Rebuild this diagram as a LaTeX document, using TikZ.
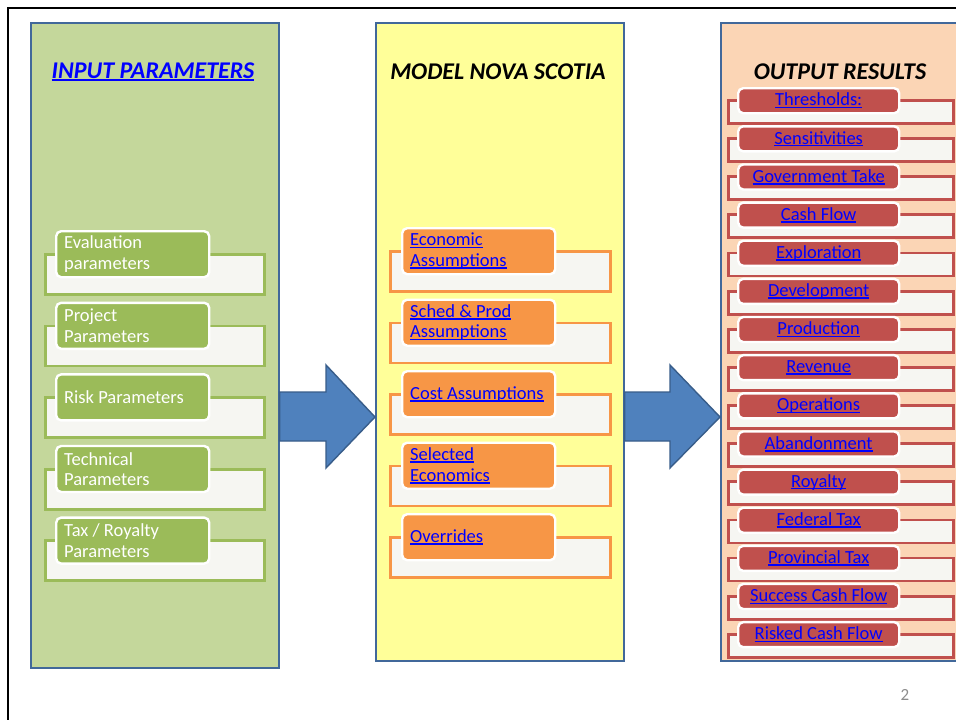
\documentclass[tikz,border=0pt]{standalone}
\usepackage{fontspec}
\setmainfont{Carlito}
\definecolor{panelborder}{HTML}{41689A}
\definecolor{pgreen}{HTML}{C4D79B}
\definecolor{pyellow}{HTML}{FFFF99}
\definecolor{ppeach}{HTML}{FBD5B5}
\definecolor{igreen}{HTML}{9BBB59}
\definecolor{iorange}{HTML}{F79646}
\definecolor{ired}{HTML}{C0504D}
\definecolor{texfill}{HTML}{F6F6F2}
\definecolor{linkblue}{HTML}{0000FF}
\definecolor{arrowfill}{HTML}{4F81BD}
\definecolor{arrowborder}{HTML}{385D8A}
\definecolor{pagegray}{HTML}{8C8C8C}
\newcommand\lnkul[1]{\leavevmode\setbox0\hbox{#1}\rlap{\rule[-2.4pt]{\wd0}{1.6pt}}\box0}
\newcommand\lnk[1]{\textcolor{linkblue}{\lnkul{#1}}}
\tikzset{
  panel/.style={draw=panelborder, line width=1.6pt, anchor=north west, inner sep=0pt},
  ptitle/.style={font=\fontsize{24}{27}\selectfont\bfseries\itshape, inner sep=0pt},
  backbox/.style={line width=2.8pt, fill=texfill, anchor=north west, inner sep=0pt},
  frontbox/.style={draw=white, line width=2.4pt, rounded corners=5pt, anchor=north west,
     font=\fontsize{18.5}{20.5}\selectfont, align=flush left, inner xsep=8pt, inner ysep=0pt},
  bigarrow/.style={fill=arrowfill, draw=arrowborder, line width=1.4pt, line join=miter},
}
\begin{document}
\begin{tikzpicture}[x=1pt,y=-1pt]
\useasboundingbox (0,0) rectangle (956,720);
\clip (0,0) rectangle (956,720);
\fill[white] (0,0) rectangle (956,720);
\draw[line width=2.2pt] (8,722) -- (8,8) -- (958,8);

% panels
\node[panel, fill=pgreen, minimum width=248, minimum height=645] (inp) at (30,22) {};
\node[panel, fill=pyellow, minimum width=248, minimum height=638] (mod) at (375,22) {};
\node[panel, fill=ppeach, minimum width=260, minimum height=638] (out) at (720,22) {};

% titles
\node[ptitle, text=linkblue] (tin) at (153,72) {\lnkul{INPUT PARAMETERS}};
\node[ptitle] (tmod) at (498,72) {MODEL NOVA SCOTIA};
\node[ptitle] (tout) at (840,72) {OUTPUT RESULTS};

% input items
\foreach \txt [count=\i from 0] in {{Evaluation\\parameters},{Project\\Parameters},{Risk Parameters},{Technical\\Parameters},{Tax / Royalty\\Parameters}}{
  \pgfmathsetmacro\ty{230+71.6*\i}
  \node[backbox, draw=igreen, minimum width=219, minimum height=40] (ib\i) at (44,\ty+23) {};
  \node[frontbox, fill=igreen, text=white, minimum width=153, minimum height=46, text width=137] (if\i) at (55,\ty) {\txt};
}

% model items
\foreach \txt [count=\i from 0] in {{\lnk{Economic}\\\lnk{Assumptions}},{\lnk{Sched \& Prod}\\\lnk{Assumptions}},{\lnk{Cost Assumptions}},{\lnk{Selected}\\\lnk{Economics}},{\lnk{Overrides}}}{
  \pgfmathsetmacro\ty{227+71.5*\i}
  \node[backbox, draw=iorange, minimum width=220, minimum height=40] (mb\i) at (389,\ty+23) {};
  \node[frontbox, fill=iorange, minimum width=153, minimum height=46, text width=137] (mf\i) at (401,\ty) {\txt};
}

% output items
\foreach \txt [count=\i from 0] in {Thresholds:,Sensitivities,Government Take,Cash Flow,Exploration,Development,Production,Revenue,Operations,Abandonment,Royalty,Federal Tax,Provincial Tax,Success Cash Flow,Risked Cash Flow}{
  \pgfmathsetmacro\ty{87+38.14*\i}
  \node[backbox, draw=ired, minimum width=225, minimum height=23] (ob\i) at (727,\ty+12) {};
  \node[frontbox, fill=ired, align=center, minimum width=161, minimum height=25, inner xsep=0pt] (of\i) at (737,\ty) {\lnk{\txt}};
}

% block arrows
\draw[bigarrow] (inp.east |- 0,392) -- (326,392) -- (326,365) -- (mod.west |- 0,417)
   -- (326,468) -- (326,441) -- (inp.east |- 0,441) -- cycle;
\draw[bigarrow] (mod.east |- 0,392) -- (670,392) -- (670,365) -- (out.west |- 0,417)
   -- (670,468) -- (670,441) -- (mod.east |- 0,441) -- cycle;

% page number
\node[text=pagegray, font=\fontsize{17}{19}\selectfont] (pnum) at (905,695) {2};
\end{tikzpicture}
\end{document}
